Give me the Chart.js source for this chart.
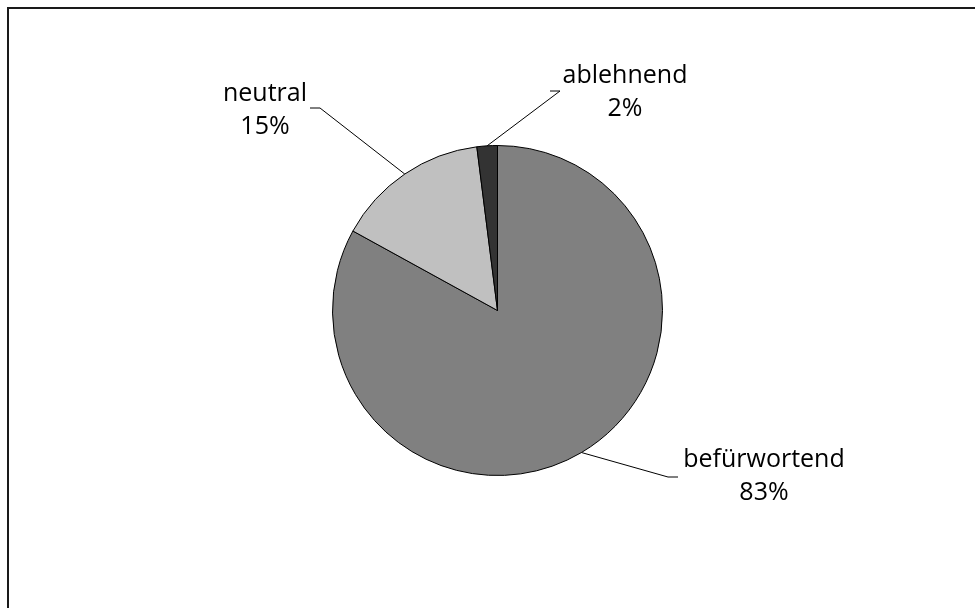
<!DOCTYPE html>
<html lang="de">
<head>
    <meta charset="UTF-8">
    <title>Pie</title>
    <script src="https://cdn.jsdelivr.net/npm/chart.js"></script>
    <style>
        body {
            margin: 0;
            padding: 0;
            background: #fff;
        }
        .wrap {
            position: relative;
            width: 975px;
            height: 608px;
        }
        .frame {
            position: absolute;
            left: 7px;
            top: 7px;
            right: 0;
            bottom: 0;
            border-top: 2px solid #1a1a1a;
            border-left: 2px solid #1a1a1a;
            pointer-events: none;
        }
    </style>
</head>
<body>
    <div class="wrap">
        <canvas id="pie" width="975" height="608"></canvas>
        <div class="frame"></div>
    </div>

    <script>
        const categories = ['befürwortend', 'neutral', 'ablehnend'];
        const shares = [83, 15, 2];
        const sliceColors = ['#808080', '#c0c0c0', '#333333'];

        // where each label sits (center x, first baseline y) and where its leader line bends
        const labelSpots = [
            { x: 764, y: 467, elbowX: 668, elbowY: 477, lineEnd: 678 },
            { x: 265, y: 101, elbowX: 320, elbowY: 108, lineEnd: 310 },
            { x: 625, y: 83, elbowX: 560, elbowY: 91, lineEnd: 550 }
        ];

        const leaderLabels = {
            id: 'leaderLabels',
            afterDraw(chart) {
                const ctx = chart.ctx;
                const arcs = chart.getDatasetMeta(0).data;
                ctx.save();
                arcs.forEach((arc, i) => {
                    const spot = labelSpots[i];
                    const mid = (arc.startAngle + arc.endAngle) / 2;
                    const sx = arc.x + Math.cos(mid) * arc.outerRadius;
                    const sy = arc.y + Math.sin(mid) * arc.outerRadius;
                    ctx.strokeStyle = '#000';
                    ctx.lineWidth = 1;
                    ctx.beginPath();
                    ctx.moveTo(sx, sy);
                    ctx.lineTo(spot.elbowX, spot.elbowY);
                    ctx.lineTo(spot.lineEnd, spot.elbowY);
                    ctx.stroke();

                    ctx.fillStyle = '#000';
                    ctx.font = '25px "Open Sans", sans-serif';
                    ctx.textAlign = 'center';
                    ctx.textBaseline = 'alphabetic';
                    ctx.fillText(categories[i], spot.x, spot.y);
                    ctx.fillText(shares[i] + '%', spot.x, spot.y + 33);
                });
                ctx.restore();
            }
        };

        new Chart(document.getElementById('pie'), {
            type: 'pie',
            data: {
                labels: categories,
                datasets: [{
                    data: shares,
                    backgroundColor: sliceColors,
                    borderColor: '#000',
                    borderWidth: 1,
                    hoverOffset: 0,
                    offset: 0
                }]
            },
            options: {
                responsive: false,
                animation: false,
                layout: {
                    padding: { left: 332, right: 312, top: 145, bottom: 132 }
                },
                plugins: {
                    legend: { display: false },
                    tooltip: { enabled: false }
                }
            },
            plugins: [leaderLabels]
        });
    </script>
</body>
</html>
